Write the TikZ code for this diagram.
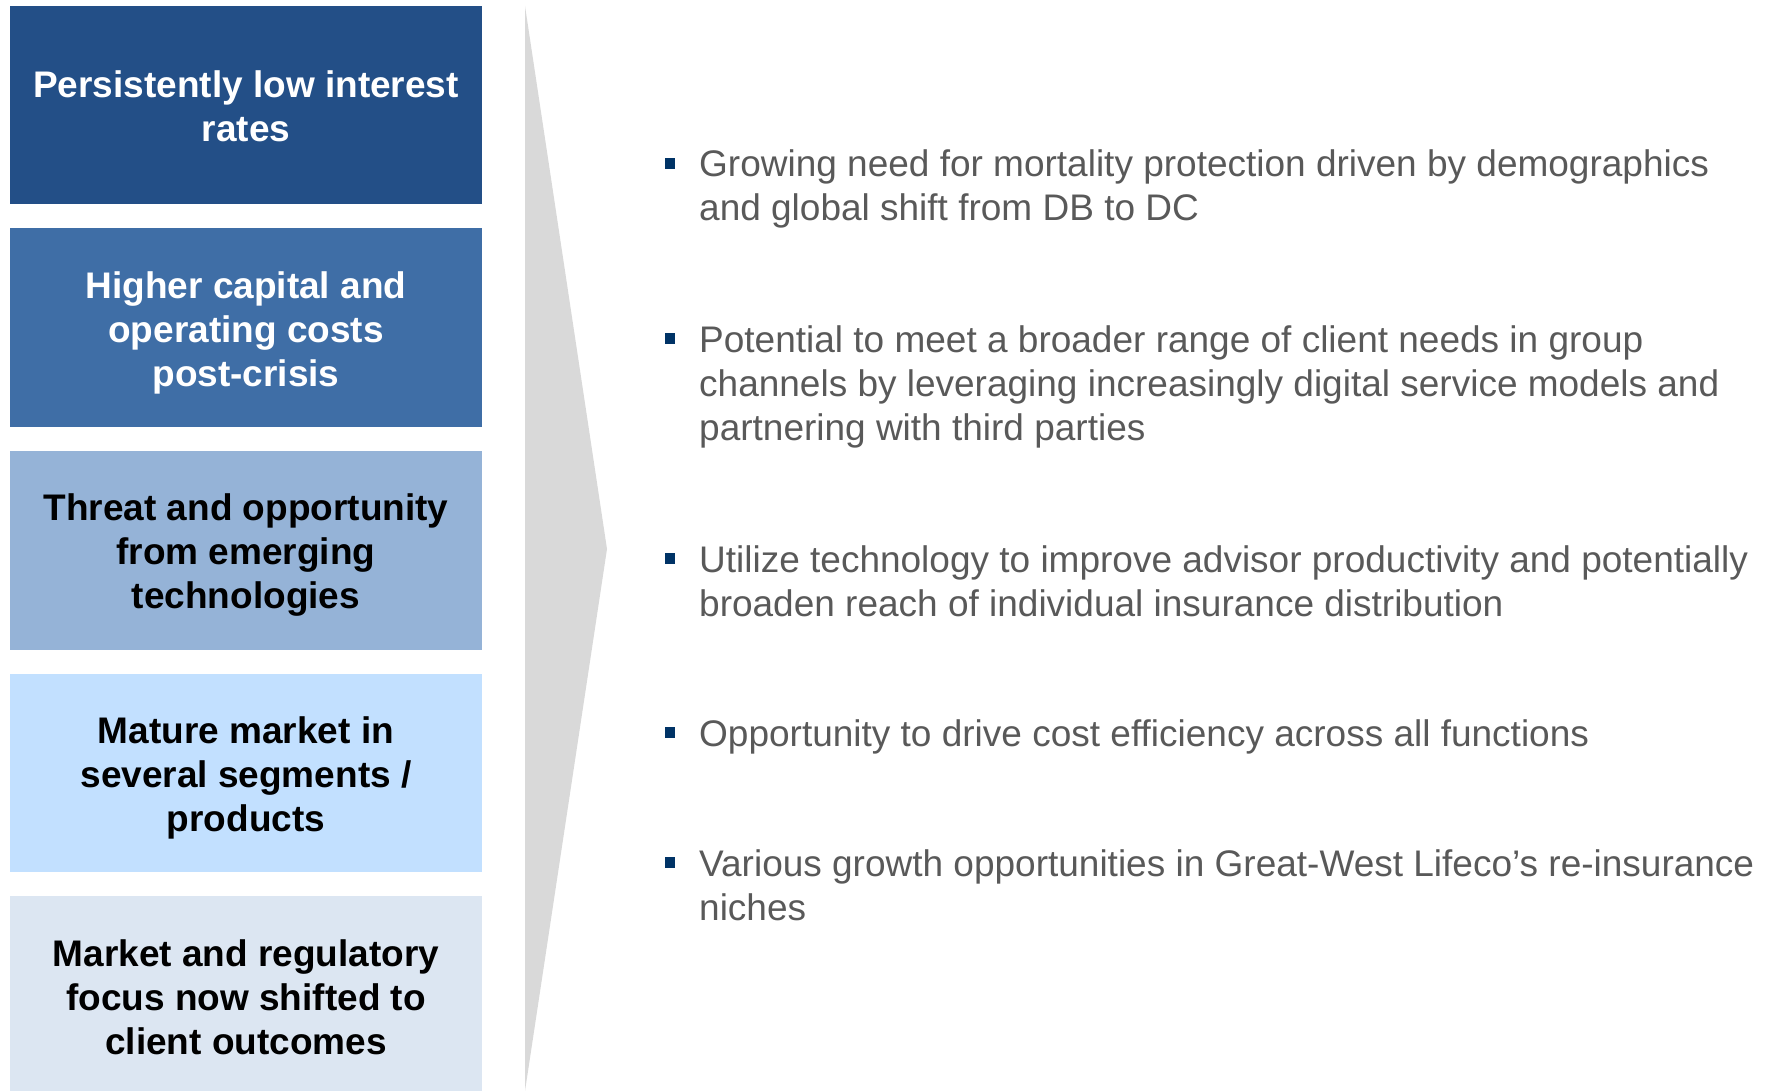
\documentclass[tikz,border=0pt]{standalone}
\usepackage{fontspec}
\setmainfont{Liberation Sans}
\definecolor{drvA}{HTML}{234F87}
\definecolor{drvB}{HTML}{3F6EA6}
\definecolor{drvC}{HTML}{95B3D7}
\definecolor{drvD}{HTML}{C2E0FF}
\definecolor{drvE}{HTML}{DCE6F2}
\definecolor{chevgray}{HTML}{D9D9D9}
\definecolor{txtgray}{HTML}{595959}
\definecolor{sqblue}{HTML}{003366}
\tikzset{
  drvtxt/.style={inner sep=0pt, align=center, font=\bfseries\fontsize{37}{44}\selectfont},
  opptxt/.style={anchor=base west, inner sep=0pt, align=left, text=txtgray, font=\fontsize{37}{44}\selectfont},
  oppsq/.style={rectangle, inner sep=0pt, minimum size=10.5pt, fill=sqblue},
}
\begin{document}
\begin{tikzpicture}[x=1pt,y=-1pt]
\useasboundingbox (0,0) rectangle (1781,1091);
\fill[chevgray] (525,6) -- (607,549) -- (525,1091) -- cycle;
\fill[drvA] (10,6) rectangle (482,204.5);
\fill[drvB] (10,228.5) rectangle (482,427);
\fill[drvC] (10,451) rectangle (482,649.5);
\fill[drvD] (10,673.5) rectangle (482,872);
\fill[drvE] (10,896) rectangle (482,1091);
\node[drvtxt, text=white] (drv0) at (246,106) {Persistently low interest\\rates};
\node[drvtxt, text=white] (drv1) at (246,332.5) {Higher capital and\\operating costs\\post-crisis};
\node[drvtxt, text=black] (drv2) at (246,555) {Threat and opportunity\\from emerging\\technologies};
\node[drvtxt, text=black] (drv3) at (246,777.5) {Mature market in\\several segments /\\products};
\node[drvtxt, text=black] (drv4) at (246,997.5) {Market and regulatory\\focus now shifted to\\client outcomes};
\node[oppsq] (sq0) at (670,163.5) {};
\node[opptxt] (opp0) at (699,221) {Growing need for mortality protection driven by demographics\\and global shift from DB to DC};
\node[oppsq] (sq1) at (670,338.5) {};
\node[opptxt] (opp1) at (699,440) {Potential to meet a broader range of client needs in group\\channels by leveraging increasingly digital service models and\\partnering with third parties};
\node[oppsq] (sq2) at (670,558.5) {};
\node[opptxt] (opp2) at (699,616) {Utilize technology to improve advisor productivity and potentially\\broaden reach of individual insurance distribution};
\node[oppsq] (sq3) at (670,732.5) {};
\node[opptxt] (opp3) at (699,746) {Opportunity to drive cost efficiency across all functions};
\node[oppsq] (sq4) at (670,862.5) {};
\node[opptxt] (opp4) at (699,920) {Various growth opportunities in Great-West Lifeco’s re-insurance\\niches};
\end{tikzpicture}
\end{document}
